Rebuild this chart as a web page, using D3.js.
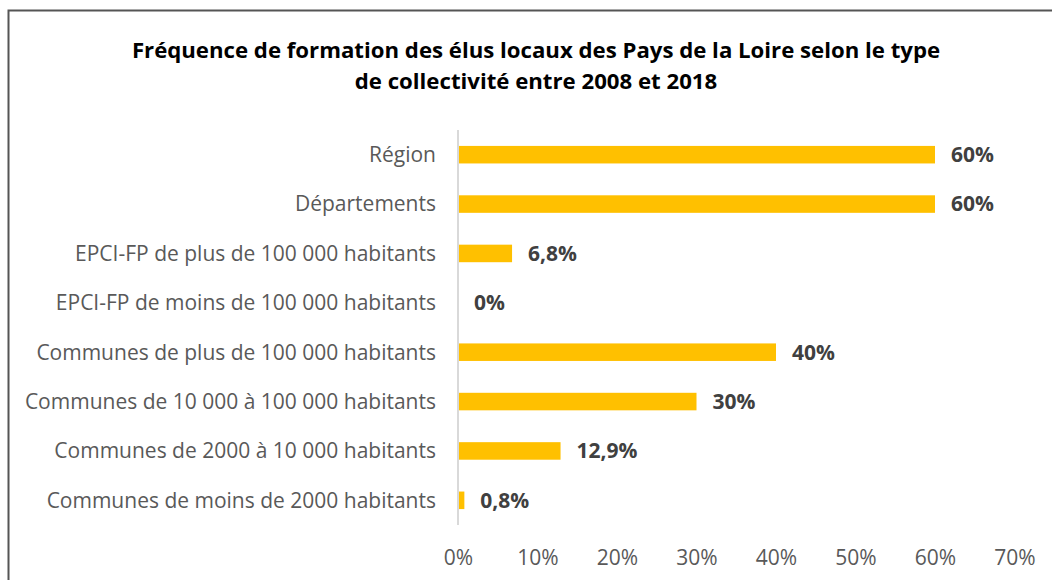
<!DOCTYPE html>
<html>
<head>
<meta charset="utf-8">
<script src="https://cdn.jsdelivr.net/npm/d3@7"></script>
<style>
  html, body { margin: 0; padding: 0; background: #fff; }
  svg { display: block; }
</style>
</head>
<body>
<svg id="chart" width="1052" height="580"></svg>
<script>
const categories = [
  "Région",
  "Départements",
  "EPCI-FP de plus de 100 000 habitants",
  "EPCI-FP de moins de 100 000 habitants",
  "Communes de plus de 100 000 habitants",
  "Communes de 10 000 à 100 000 habitants",
  "Communes de 2000 à 10 000 habitants",
  "Communes de moins de 2000 habitants"
];
const values = [60, 60, 6.8, 0, 40, 30, 12.9, 0.8];
const valueLabels = ["60%", "60%", "6,8%", "0%", "40%", "30%", "12,9%", "0,8%"];
const tickValues = [0, 10, 20, 30, 40, 50, 60, 70];
const titleLines = [
  "Fréquence de formation des élus locaux des Pays de la Loire selon le type",
  "de collectivité entre 2008 et 2018"
];

const svg = d3.select("#chart");
const font = "'Open Sans', sans-serif";

// outer border
svg.append("rect")
  .attr("x", 8.5).attr("y", 10.5)
  .attr("width", 1100).attr("height", 700)
  .attr("fill", "#fff").attr("stroke", "#555").attr("stroke-width", 2);

// title
svg.append("g").selectAll("text").data(titleLines).join("text")
  .attr("x", 536).attr("y", (d, i) => 58 + i * 31)
  .attr("text-anchor", "middle")
  .attr("font-family", font).attr("font-weight", "bold")
  .attr("font-size", 22.2).attr("fill", "#000")
  .text(d => d);

const margin = { left: 458, right: 1014.5, top: 130, bottom: 525 };
const x = d3.scaleLinear().domain([0, 70]).range([margin.left, margin.right]);
const y = d3.scaleBand().domain(categories).range([margin.top, margin.bottom]).paddingInner(0.645).paddingOuter(0.3225);

// bars
svg.append("g").selectAll("rect").data(categories).join("rect")
  .attr("x", x(0))
  .attr("y", d => y(d))
  .attr("width", (d, i) => x(values[i]) - x(0))
  .attr("height", y.bandwidth())
  .attr("fill", "#FFC000");

// axis line
svg.append("line")
  .attr("x1", x(0)).attr("x2", x(0))
  .attr("y1", margin.top).attr("y2", margin.bottom)
  .attr("stroke", "#d9d9d9").attr("stroke-width", 2);

// category labels
svg.append("g").selectAll("text").data(categories).join("text")
  .attr("x", 436)
  .attr("y", d => y(d) + y.bandwidth() / 2)
  .attr("dy", "0.35em")
  .attr("text-anchor", "end")
  .attr("font-family", font).attr("font-size", 21)
  .attr("fill", "#595959")
  .text(d => d);

// value labels
svg.append("g").selectAll("text").data(categories).join("text")
  .attr("x", (d, i) => x(values[i]) + 16)
  .attr("y", d => y(d) + y.bandwidth() / 2)
  .attr("dy", "0.35em")
  .attr("font-family", font).attr("font-size", 21).attr("font-weight", "bold")
  .attr("fill", "#404040")
  .text((d, i) => valueLabels[i]);

// x axis tick labels
const xAxis = d3.axisBottom(x).tickValues(tickValues).tickFormat(d => d + "%").tickSize(0).tickPadding(0);
const gx = svg.append("g").attr("transform", `translate(0, 550)`).call(xAxis);
gx.select(".domain").remove();
gx.selectAll("text")
  .attr("font-family", font).attr("font-size", 21)
  .attr("fill", "#595959");
</script>
</body>
</html>
